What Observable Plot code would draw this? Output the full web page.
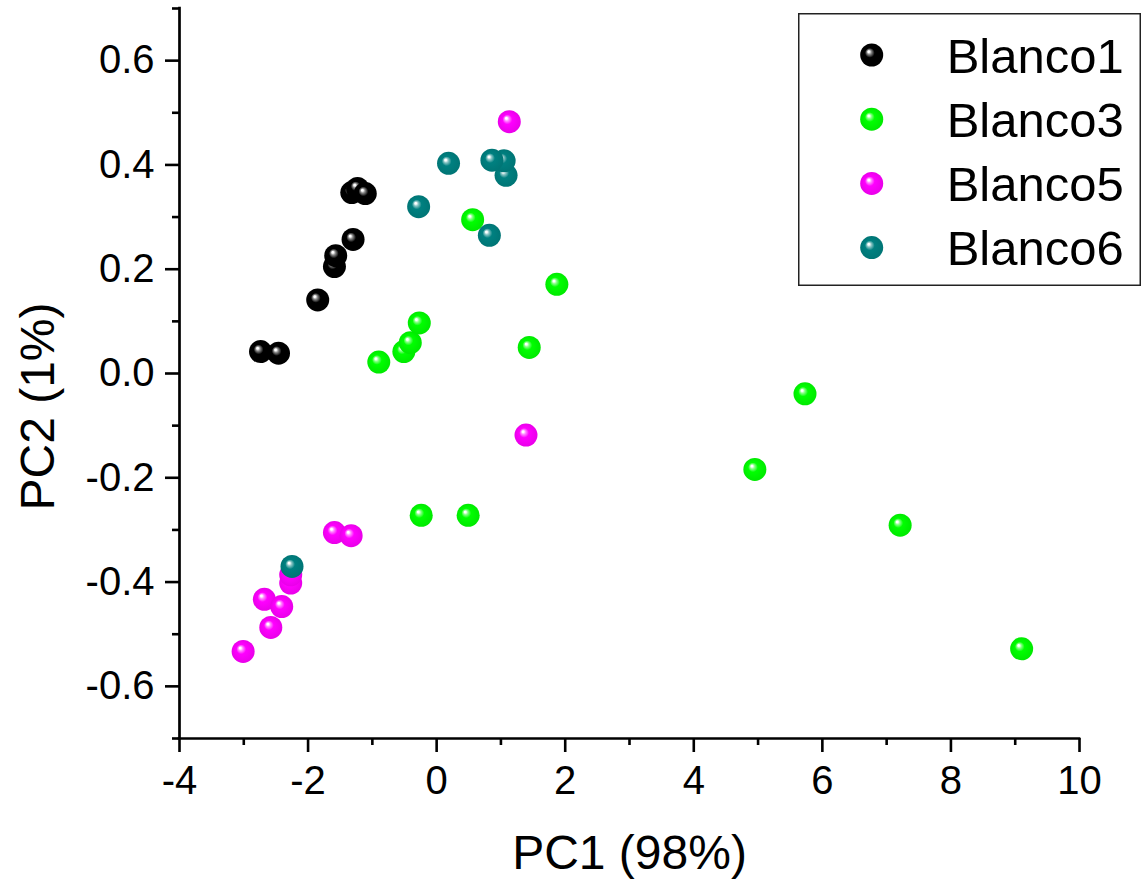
<!DOCTYPE html>
<html>
<head>
<meta charset="utf-8">
<script src="https://cdn.jsdelivr.net/npm/d3@7"></script>
<script src="https://cdn.jsdelivr.net/npm/@observablehq/plot@0.6"></script>
<style>
  html, body { margin: 0; padding: 0; background: #fff; }
  #chart { position: relative; width: 1144px; height: 881px; }
  #legend { position: absolute; left: 798px; top: 13px; }
</style>
</head>
<body>
<div id="chart"></div>
<script>
// PCA scores, one pair of arrays per sample group
const seriesNames = ["Blanco1", "Blanco3", "Blanco5", "Blanco6"];
const seriesColors = ["#000000", "#00ff00", "#ff00ff", "#008080"];

const blanco1X = [-2.74, -2.46, -1.85, -1.59, -1.57, -1.30, -1.32, -1.23, -1.11];
const blanco1Y = [0.042, 0.039, 0.141, 0.205, 0.226, 0.257, 0.347, 0.355, 0.345];

const blanco3X = [-0.90, -0.51, -0.41, -0.27, 0.56, 1.44, 1.87, -0.24, 0.49, 4.95, 5.73, 7.21, 9.10];
const blanco3Y = [0.022, 0.042, 0.059, 0.097, 0.295, 0.050, 0.171, -0.272, -0.272, -0.184, -0.039, -0.291, -0.528];

const blanco5X = [-3.01, -2.58, -2.68, -2.41, -2.27, -2.27, -1.59, -1.33, 1.39, 1.13];
const blanco5Y = [-0.533, -0.487, -0.433, -0.447, -0.402, -0.386, -0.305, -0.311, -0.118, 0.483];

const blanco6X = [-2.25, -0.28, 0.185, 0.82, 1.08, 1.05, 0.86];
const blanco6Y = [-0.370, 0.320, 0.403, 0.265, 0.380, 0.408, 0.409];

const xTicks = [-4, -2, 0, 2, 4, 6, 8, 10];
const xMinorTicks = [-3, -1, 1, 3, 5, 7, 9];
const yTicks = [-0.6, -0.4, -0.2, 0.0, 0.2, 0.4, 0.6];
const yMinorTicks = [-0.7, -0.5, -0.3, -0.1, 0.1, 0.3, 0.5, 0.7];

const xLabel = "PC1 (98%)";
const yLabel = "PC2 (1%)";

const seriesX = [blanco1X, blanco3X, blanco5X, blanco6X];
const seriesY = [blanco1Y, blanco3Y, blanco5Y, blanco6Y];

const font = '"Liberation Sans", Arial, Helvetica, sans-serif';
const ballRadius = 11.5;
const gradId = (i) => `ball-${i}`;

// Shaded "glass ball" fill for each group colour
function addBallGradients(defs) {
  seriesColors.forEach((c, i) => {
    const mix = d3.interpolateRgb("#ffffff", c);
    const g = defs.append("radialGradient")
      .attr("id", gradId(i))
      .attr("cx", "50%").attr("cy", "50%").attr("r", "50%")
      .attr("fx", "36%").attr("fy", "34%");
    const stops = [
      [0, "#ffffff"],
      [0.08, "#ffffff"],
      [0.2, mix(0.45)],
      [0.42, c],
      [1, d3.color(c).darker(0.25).formatHex()]
    ];
    stops.forEach(([o, col]) => g.append("stop").attr("offset", o).attr("stop-color", col));
  });
}

const dotMarks = seriesNames.map((name, i) => {
  const rows = seriesX[i].map((x, j) => ({x, y: seriesY[i][j], group: name}));
  return Plot.dot(rows, {x: "x", y: "y", r: ballRadius, fill: `url(#${gradId(i)})`, stroke: "none"});
});

const plot = Plot.plot({
  width: 1144,
  height: 881,
  marginLeft: 179,
  marginRight: 65,
  marginTop: 8,
  marginBottom: 143,
  style: {fontFamily: font, background: "#fff", color: "#000"},
  x: {domain: [-4, 10]},
  y: {domain: [-0.7, 0.7]},
  marks: [
    Plot.axisX(xTicks, {tickSize: 14, tickPadding: 13, fontSize: 40, strokeWidth: 2.6, tickFormat: (d) => String(d), label: null}),
    Plot.axisX(xMinorTicks, {tickSize: 7, strokeWidth: 2.6, tickFormat: () => "", label: null}),
    Plot.axisY(yTicks, {tickSize: 14, tickPadding: 11, fontSize: 40, strokeWidth: 2.6, tickFormat: (d) => d.toFixed(1), label: null}),
    Plot.axisY(yMinorTicks, {tickSize: 7, strokeWidth: 2.6, tickFormat: () => "", label: null}),
    Plot.ruleX([-4], {stroke: "#000", strokeWidth: 2.7, strokeLinecap: "square"}),
    Plot.ruleY([-0.7], {stroke: "#000", strokeWidth: 2.7, strokeLinecap: "square"}),
    ...dotMarks,
    Plot.text([xLabel], {text: (d) => d, frameAnchor: "bottom", dy: 130, lineAnchor: "bottom", textAnchor: "middle", fontSize: 48, fill: "#000"}),
    Plot.text([yLabel], {text: (d) => d, frameAnchor: "left", rotate: -90, dx: -126, dy: 33, lineAnchor: "bottom", textAnchor: "middle", fontSize: 48, fill: "#000"})
  ]
});

addBallGradients(d3.select(plot).insert("defs", ":first-child"));

const chart = document.getElementById("chart");
chart.appendChild(plot);

// Boxed legend in the upper-right corner of the plot area
const legW = 343, legH = 273, rowStep = 64.2, firstRow = 42;
const legend = d3.select(chart).append("svg")
  .attr("id", "legend")
  .attr("width", legW).attr("height", legH)
  .style("font-family", font);
legend.append("rect")
  .attr("x", 0.75).attr("y", 0.75)
  .attr("width", legW - 1.5).attr("height", legH - 1.5)
  .attr("fill", "#fff").attr("stroke", "#222").attr("stroke-width", 1.5);
const items = legend.selectAll("g.item").data(seriesNames).join("g")
  .attr("class", "item")
  .attr("transform", (d, i) => `translate(0,${firstRow + i * rowStep})`);
items.append("circle")
  .attr("cx", 73.7).attr("cy", 0).attr("r", ballRadius)
  .attr("fill", (d, i) => `url(#${gradId(i)})`);
items.append("text")
  .attr("x", 148.7).attr("y", 17.5)
  .attr("font-size", 49).attr("fill", "#000")
  .text((d) => d);
</script>
</body>
</html>
